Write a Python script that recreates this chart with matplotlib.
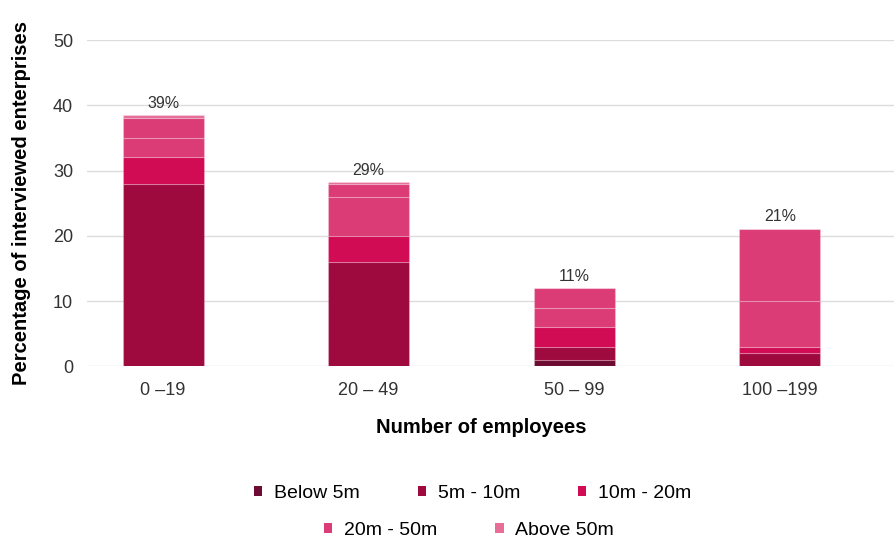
import numpy as np
import matplotlib.pyplot as plt
from matplotlib.patches import Patch

plt.rcParams['font.family'] = ['Liberation Sans', 'DejaVu Sans']

# Revenue bands by company size (% of interviewed enterprises)
categories = ["0 –19", "20 – 49", "50 – 99", "100 –199"]
below_5m = [0, 0, 1, 0]
m5_10 = [28, 16, 2, 2]
m10_20 = [4, 4, 3, 1]
# 20m - 50m comes in two stacked parts in the source table
m20_50_part1 = [3, 6, 3, 7]
m20_50_part2 = [3, 2, 3, 11]
above_50m = [0.5, 0.2, 0, 0.1]
total_labels = [39, 29, 11, 21]

colors = {
    "Below 5m": "#6e0b32",
    "5m - 10m": "#9e0a3e",
    "10m - 20m": "#d20b55",
    "20m - 50m": "#dc3c75",
    "Above 50m": "#e66e98",
}

stack = [
    (below_5m, colors["Below 5m"]),
    (m5_10, colors["5m - 10m"]),
    (m10_20, colors["10m - 20m"]),
    (m20_50_part1, colors["20m - 50m"]),
    (m20_50_part2, colors["20m - 50m"]),
    (above_50m, colors["Above 50m"]),
]

fig = plt.figure(figsize=(8.95, 5.41), dpi=100)
ax = fig.add_axes([0.0972, 0.323, 0.9028, 0.603])

x = np.arange(len(categories))
bottom = np.zeros(len(categories))
for vals, col in stack:
    vals = np.array(vals, dtype=float)
    ax.bar(x, vals, bottom=bottom, width=0.394, color=col,
           edgecolor=(1, 1, 1, 0.22), linewidth=0.8, zorder=3)
    bottom += vals

for xi, top, lab in zip(x, bottom, total_labels):
    ax.annotate(f"{lab}%", (xi, top), xytext=(0, 3), textcoords="offset points",
                ha="center", va="bottom", fontsize=11.5, color="#333333")

ax.set_xlim(-0.37, 3.56)
ax.set_ylim(0, 50)
ax.set_yticks([0, 10, 20, 30, 40, 50])
ax.set_xticks(x)
ax.set_xticklabels(categories)
ax.tick_params(axis="both", length=0, labelsize=13, labelcolor="#333333")
ax.tick_params(axis="x", pad=11)
ax.tick_params(axis="y", pad=10)
ax.grid(axis="y", color="#dcdcdc", linewidth=1, zorder=0)
for s in ax.spines.values():
    s.set_visible(False)

ax.set_ylabel("Percentage of interviewed enterprises", fontsize=14.5,
              fontweight="bold")
ax.yaxis.set_label_coords(-0.069, 0.5)
ax.set_xlabel("Number of employees", fontsize=14.5, fontweight="bold")
ax.xaxis.set_label_coords(0.488, -0.158)

names = list(colors.keys())
handles = [Patch(facecolor=colors[n], edgecolor="none") for n in names]
fig.legend(handles[:3], names[:3], ncol=3, loc="center",
           bbox_to_anchor=(0.528, 0.088), frameon=False, fontsize=14,
           handlelength=0.42, handleheight=0.42, columnspacing=3.0,
           handletextpad=0.6)
fig.legend(handles[3:], names[3:], ncol=2, loc="center",
           bbox_to_anchor=(0.524, 0.02), frameon=False, fontsize=14,
           handlelength=0.42, handleheight=0.42, columnspacing=3.0,
           handletextpad=0.6)

fig.savefig("out.png", dpi=100)
